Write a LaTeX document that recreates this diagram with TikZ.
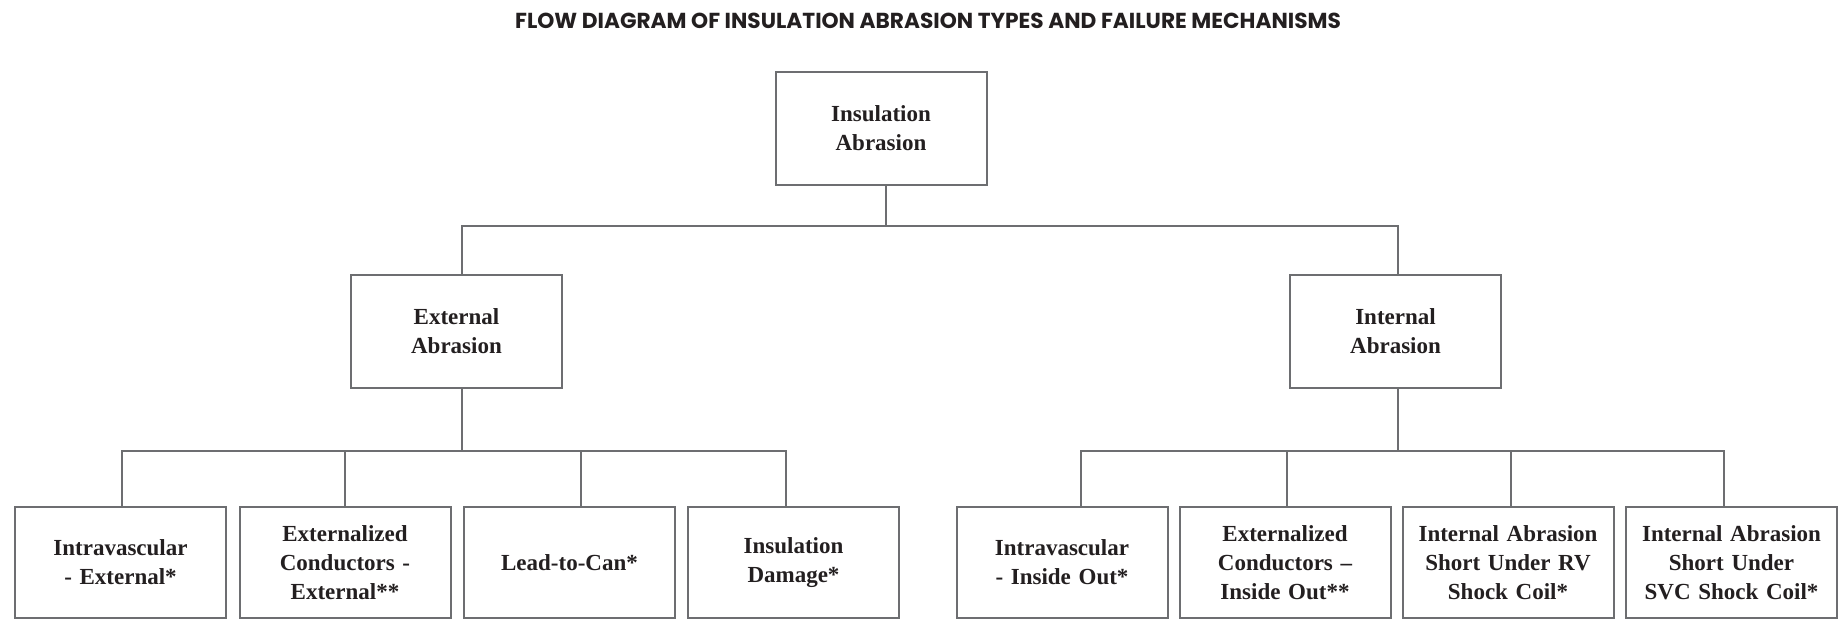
\documentclass[tikz,border=0pt]{standalone}
\usepackage{fontspec}
\setmainfont{Liberation Serif}
\newfontfamily\titlefont{Poppins}
\usetikzlibrary{
    calc,
    positioning
}
\definecolor{linegray}{RGB}{109,110,113}
\definecolor{textdark}{RGB}{35,31,32}
\tikzset{
  every path/.style={
    linegray,
    line width=2pt
  },
  box/.style={
    draw=linegray,
    fill=white,
    line width=2pt,
    rectangle,
    minimum width=211pt,
    minimum height=113pt,
    text width=200pt,
    align=center,
    inner sep=0pt,
    text=textdark,
    font=\fontsize{23}{29}\selectfont\bfseries
  },
  leaf/.style={
    box,
    minimum height=111pt
  }
}

\begin{document}
\begin{tikzpicture}[x=1pt,y=-1pt]
    \useasboundingbox (0,0) rectangle (1847,620);

    % title
    \node[anchor=base,inner sep=0pt,text=textdark,
          font=\titlefont\bfseries\fontsize{21.7}{25}\selectfont] (title) at (928,28.5)
        {FLOW DIAGRAM OF INSULATION ABRASION TYPES AND FAILURE MECHANISMS};

    % boxes
    \node[box] (top) at (881,128.5) {Insulation\\Abrasion};
    \node[box] (ext) at (456.5,331.5) {External\\Abrasion};
    \node[box] (int) at (1395.5,331.5) {Internal\\Abrasion};

    \node[leaf] (ivext) at (120.5,562.5) {Intravascular\\- External*};
    \node[leaf] (ecext) at (345,562.5) {Externalized\\Conductors -\\External**};
    \node[leaf] (ltc)   at (569.5,562.5) {Lead-to-Can*};
    \node[leaf] (dmg)   at (793.5,562.5) {Insulation\\Damage*};

    \node[leaf] (ivin) at (1062,562.5) {Intravascular\\- Inside Out*};
    \node[leaf] (ecin) at (1285,562.5) {Externalized\\Conductors --\\Inside Out**};
    \node[leaf] (rv)   at (1508,562.5) {Internal Abrasion\\Short Under RV\\Shock Coil*};
    \node[leaf] (svc)  at (1731.5,562.5) {Internal Abrasion\\Short Under\\SVC Shock Coil*};

    % hubs
    \coordinate (hub)  at (886,226);
    \coordinate (hubE) at (462,451);
    \coordinate (hubI) at (1398,451);

    % edges
    \draw ([xshift=5]top.south) -- (hub);
    \draw ([xshift=5.5]ext.north) |- (hub);
    \draw ([xshift=2.5]int.north) |- (hub);

    \draw ([xshift=5.5]ext.south) -- (hubE);
    \draw ([xshift=1.5]ivext.north) |- (hubE);
    \draw (ecext.north) |- (hubE);
    \draw ([xshift=11.5]ltc.north) |- (hubE);
    \draw ([xshift=-7.5]dmg.north) |- (hubE);

    \draw ([xshift=2.5]int.south) -- (hubI);
    \draw ([xshift=19]ivin.north) |- (hubI);
    \draw ([xshift=2]ecin.north) |- (hubI);
    \draw ([xshift=3]rv.north) |- (hubI);
    \draw ([xshift=-7.5]svc.north) |- (hubI);
\end{tikzpicture}
\end{document}
